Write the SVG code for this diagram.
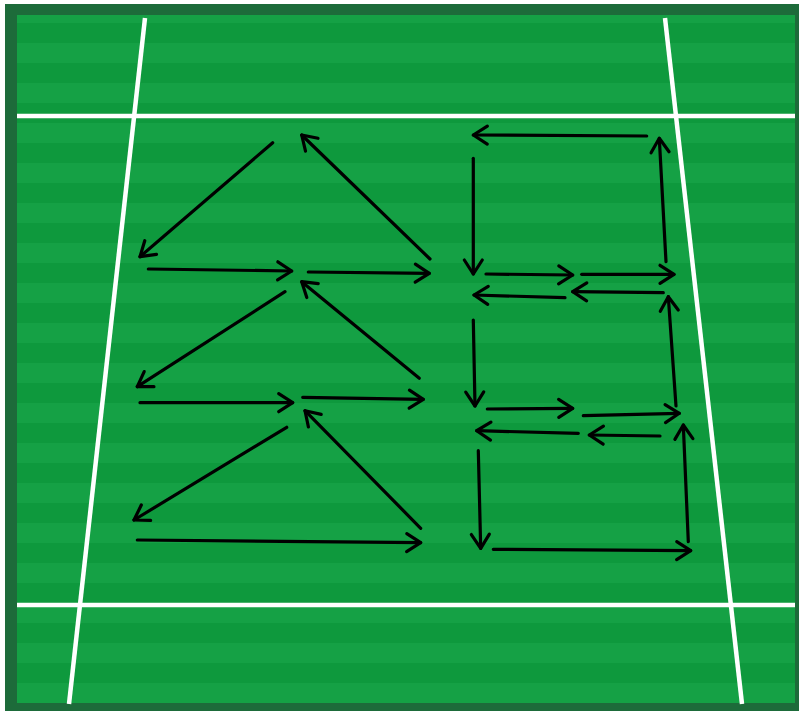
<svg xmlns="http://www.w3.org/2000/svg" width="799" height="713" viewBox="0 0 799 713">
<style>
.line{stroke:#ffffff;stroke-width:4.5;fill:none;stroke-linecap:butt}
.arr{stroke:#000000;stroke-width:3.2;fill:none;stroke-linecap:round;marker-end:url(#head)}
</style>
<defs>
<pattern id="stripes" patternUnits="userSpaceOnUse" x="0" y="3" width="40" height="40">
<rect x="0" y="0" width="40" height="40" fill="#0e993d"/>
<rect x="0" y="0" width="40" height="20" fill="#15a145"/>
</pattern>
<marker id="head" markerUnits="userSpaceOnUse" markerWidth="34" markerHeight="34" viewBox="-17 -17 34 34" refX="0" refY="0" orient="auto">
<path d="M-14,-9 L0,0 L-14,9" fill="none" stroke="#000000" stroke-width="3.2" stroke-linecap="round" stroke-linejoin="round"/>
</marker>
</defs>
<rect x="0" y="0" width="799" height="713" fill="#ffffff"/>
<g id="field">
<rect x="5" y="4" width="794" height="707" fill="#1d6b3a"/>
<rect x="17" y="15" width="778" height="688" fill="url(#stripes)"/>
<line class="line" x1="17" y1="116" x2="795" y2="116"/>
<line class="line" x1="17" y1="605" x2="795" y2="605"/>
<line class="line" x1="145" y1="18" x2="69" y2="704"/>
<line class="line" x1="665" y1="18" x2="742" y2="704"/>
</g>
<g id="connectors">
<line class="arr" x1="272.7" y1="142.7" x2="140" y2="256.7"/>
<line class="arr" x1="430" y1="259" x2="301.7" y2="135"/>
<line class="arr" x1="148.3" y1="269" x2="291.7" y2="271"/>
<line class="arr" x1="308.3" y1="272" x2="429.3" y2="273.3"/>
<line class="arr" x1="285" y1="291.7" x2="137.3" y2="386.7"/>
<line class="arr" x1="419.3" y1="378.3" x2="301.7" y2="281.7"/>
<line class="arr" x1="140" y1="402.7" x2="292.7" y2="402.7"/>
<line class="arr" x1="302.7" y1="397.3" x2="423.3" y2="399.3"/>
<line class="arr" x1="286.7" y1="427.3" x2="134" y2="520"/>
<line class="arr" x1="420.7" y1="528.3" x2="305" y2="410.7"/>
<line class="arr" x1="137.3" y1="540" x2="420.7" y2="542.7"/>
<line class="arr" x1="646.7" y1="136" x2="473.3" y2="135"/>
<line class="arr" x1="666" y1="261.7" x2="659.3" y2="138.3"/>
<line class="arr" x1="473.3" y1="158.3" x2="473.3" y2="274"/>
<line class="arr" x1="486" y1="274" x2="572.7" y2="275"/>
<line class="arr" x1="581.7" y1="274.3" x2="674" y2="274.3"/>
<line class="arr" x1="565" y1="297.7" x2="474" y2="295"/>
<line class="arr" x1="663.3" y1="292.7" x2="572.7" y2="291.7"/>
<line class="arr" x1="676" y1="406" x2="668.3" y2="296.7"/>
<line class="arr" x1="473.3" y1="320" x2="475" y2="406"/>
<line class="arr" x1="487.3" y1="409" x2="572.7" y2="408.3"/>
<line class="arr" x1="583.3" y1="415.7" x2="679.3" y2="413.3"/>
<line class="arr" x1="578.3" y1="433.3" x2="476.7" y2="430.7"/>
<line class="arr" x1="660" y1="436" x2="589.3" y2="435"/>
<line class="arr" x1="688.3" y1="541.7" x2="683.3" y2="425"/>
<line class="arr" x1="478.3" y1="450.7" x2="480.7" y2="548.3"/>
<line class="arr" x1="493.3" y1="549.3" x2="690.7" y2="550.7"/>
</g>
</svg>
